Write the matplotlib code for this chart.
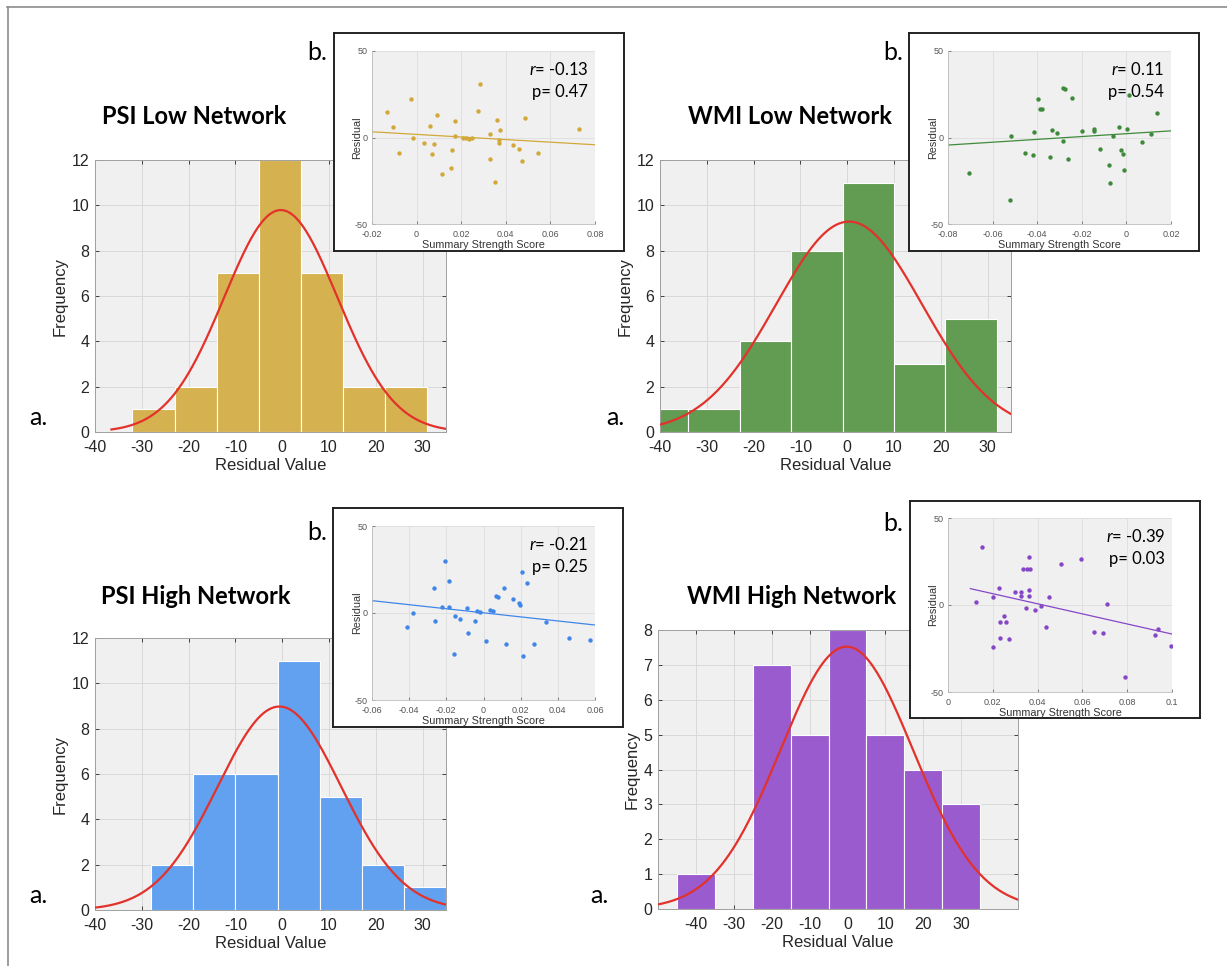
import numpy as np
import matplotlib as mpl
import matplotlib.pyplot as plt
from matplotlib.lines import Line2D

mpl.use("Agg")
plt.rcParams["font.family"] = ["Liberation Sans", "DejaVu Sans"]
plt.rcParams["axes.unicode_minus"] = False
plt.rcParams["mathtext.fontset"] = "custom"
plt.rcParams["mathtext.it"] = "Lato:italic"
plt.rcParams["mathtext.rm"] = "Lato"

W, H = 1227, 966
dpi = 100

# ---- histogram data (bin edges, counts, normal fit) ----
psi_low_edges = [-32, -23, -14, -5, 4, 13, 22, 31]
psi_low_counts = [1, 2, 7, 12, 7, 2, 2]
psi_low_fit = (-0.3, 12.1)   # mu, sigma

wmi_low_edges = [-45, -34, -23, -12, -1, 10, 21, 32]
wmi_low_counts = [1, 1, 4, 8, 11, 3, 5]
wmi_low_fit = (0.4, 15.6)

psi_high_edges = [-28, -19, -10, -1, 8, 17, 26, 35]
psi_high_counts = [2, 6, 6, 11, 5, 2, 1]
psi_high_fit = (-0.6, 13.2)

wmi_high_edges = [-45, -35, -25, -15, -5, 5, 15, 25, 35]
wmi_high_counts = [1, 0, 7, 5, 8, 5, 4, 3]
wmi_high_fit = (-0.2, 17.5)

# ---- scatter data (summary strength score vs residual) ----
psi_low_x = [-0.0133, -0.0105, -0.0079, -0.0026, -0.0015, 0.0033, 0.006, 0.0068, 0.0077,
             0.0091, 0.0116, 0.0154, 0.0157, 0.017, 0.0173, 0.021, 0.0223, 0.0236, 0.025,
             0.0277, 0.0286, 0.0327, 0.0327, 0.0353, 0.0362, 0.0369, 0.0369, 0.0373, 0.0432,
             0.0457, 0.0473, 0.0487, 0.0545, 0.0727]
psi_low_y = [14.8, 5.8, -8.8, 22.5, -0.2, -2.9, 6.5, -9.8, -3.8,
             12.9, -21.0, -17.7, -7.3, 1.0, 9.4, -0.4, -0.5, -1.0, 0.0,
             15.2, 30.8, -12.3, 1.9, -25.6, 10.4, -2.9, -1.5, 4.2, -4.2,
             -6.7, -13.5, 11.2, -9.2, 4.8]

wmi_low_x = [-0.0707, -0.052, -0.0518, -0.0454, -0.042, -0.0413, -0.0397, -0.0388, -0.038,
             -0.0341, -0.0334, -0.0313, -0.0286, -0.0275, -0.0285, -0.026, -0.0245, -0.0198,
             -0.0146, -0.0146, -0.0119, -0.0079, -0.0074, -0.0062, -0.0033, -0.0022, -0.0017,
             -0.0011, 0.0003, 0.001, 0.0069, 0.0109, 0.0136]
wmi_low_y = [-20.8, -36.2, 0.8, -8.8, -10.0, 3.1, 22.3, 16.5, 16.3,
             -11.2, 4.2, 2.7, 28.8, 27.9, -2.1, -12.5, 23.0, 3.8,
             5.0, 3.5, -6.7, -15.8, -26.5, 0.6, 6.0, -7.3, -9.8,
             -18.8, 4.8, 24.6, -2.5, 2.1, 14.2]

psi_high_x = [-0.0409, -0.0378, -0.0269, -0.0262, -0.0222, -0.0209, -0.0188, -0.0183, -0.0158,
              -0.0152, -0.0126, -0.0088, -0.0081, -0.0045, -0.0033, -0.002, 0.0016, 0.0033,
              0.005, 0.0067, 0.0078, 0.0112, 0.0122, 0.0158, 0.019, 0.0197, 0.0207, 0.0213,
              0.0232, 0.0271, 0.0339, 0.0462, 0.0573]
psi_high_y = [-8.2, 0.2, 14.4, -4.6, 3.4, 29.7, 18.6, 3.4, -23.4,
              -1.7, -3.6, 2.9, -11.5, -4.4, 1.0, 0.4, -15.9, 1.5,
              1.0, 10.0, 9.2, 14.4, -17.8, 7.9, 5.7, 4.4, 23.4, -24.7,
              17.0, -17.8, -5.0, -14.4, -15.5]

wmi_high_x = [0.0127, 0.0152, 0.0202, 0.0202, 0.0227, 0.023, 0.0232, 0.0248, 0.0257, 0.0271,
              0.03, 0.0325, 0.0327, 0.0336, 0.035, 0.0354, 0.0368, 0.0363, 0.0363, 0.0363,
              0.0389, 0.0414, 0.0438, 0.045, 0.0504, 0.0593, 0.0654, 0.0693, 0.0711, 0.0789,
              0.0925, 0.0936, 0.0996]
wmi_high_y = [1.5, 33.5, 4.8, -24.4, 10.0, -10.0, -19.2, -6.2, -10.0, -19.8,
              7.5, 7.5, 5.4, 20.8, -1.5, 20.8, 20.8, 27.3, 8.7, 5.2,
              -2.7, -0.4, -12.5, 4.8, 23.3, 26.3, -15.8, -16.2, 0.8, -41.3,
              -17.1, -14.0, -23.5]

# least squares lines as drawn (slope, intercept, x range)
psi_low_line = (-75.0, 1.8, -0.02, 0.08)
wmi_low_line = (82.0, 2.2, -0.08, 0.02)
psi_high_line = (-116.7, 0.1, -0.06, 0.06)
wmi_high_line = (-290.0, 12.3, 0.01, 0.1)

r_labels = [r"$\it{r}$= -0.13", r"$\it{r}$= $\it{0}$.11", r"$\it{r}$= -0.21", r"$\it{r}$= -0.39"]
p_labels = ["p= 0.47", "p= 0.54", "p= 0.25", "p= 0.03"]

titles = ["PSI Low Network", "WMI Low Network", "PSI High Network", "WMI High Network"]
bar_colors = ["#D6B150", "#629B52", "#62A0F0", "#9A5BCF"]
dot_colors = ["#D2A83A", "#3F8A3A", "#3F86E8", "#8646C8"]
fit_red = "#E2322B"


def box(x0, y0, x1, y1):
    return [x0 / W, 1 - y1 / H, (x1 - x0) / W, (y1 - y0) / H]


fig = plt.figure(figsize=(W / dpi, H / dpi), dpi=dpi)
# page frame: only top and left edges are visible
fig.lines.append(Line2D([7 / W, 1], [1 - 7 / H, 1 - 7 / H], transform=fig.transFigure,
                        color="#8c8c8c", linewidth=1.2))
fig.lines.append(Line2D([7.5 / W, 7.5 / W], [0, 1 - 7 / H], transform=fig.transFigure,
                        color="#8c8c8c", linewidth=1.2))

hist_boxes = [(95, 160, 446, 432), (660, 160, 1011, 432), (95, 638, 446, 910), (658, 630, 1018, 909)]
hist_data = [(psi_low_edges, psi_low_counts, psi_low_fit),
             (wmi_low_edges, wmi_low_counts, wmi_low_fit),
             (psi_high_edges, psi_high_counts, psi_high_fit),
             (wmi_high_edges, wmi_high_counts, wmi_high_fit)]
hist_xlims = [(-40, 35), (-40, 35), (-40, 35), (-50, 45)]
hist_ylims = [12, 12, 12, 8]
title_pos = [(194, 116), (790, 116), (196, 597), (792, 597)]
a_pos = [(29, 425), (606, 425), (29, 903), (590, 903)]

for i in range(4):
    ax = fig.add_axes(box(*hist_boxes[i]))
    edges, counts, (mu, sd) = hist_data[i]
    edges = np.array(edges, dtype=float)
    widths = np.diff(edges)
    ax.bar(edges[:-1], counts, width=widths, align="edge", color=bar_colors[i],
           edgecolor="white", linewidth=0.8, zorder=2)
    xs = np.linspace(hist_xlims[i][0], hist_xlims[i][1], 300)
    n = sum(counts)
    ys = n * widths[0] * np.exp(-0.5 * ((xs - mu) / sd) ** 2) / (sd * np.sqrt(2 * np.pi))
    if i == 0:
        m = xs >= -36.5
        xs, ys = xs[m], ys[m]
    ax.plot(xs, ys, color=fit_red, linewidth=1.6, zorder=3)
    ax.set_xlim(*hist_xlims[i])
    ax.set_ylim(0, hist_ylims[i])
    ax.set_xticks(np.arange(-40, 31, 10))
    if hist_ylims[i] == 12:
        ax.set_yticks(np.arange(0, 13, 2))
    else:
        ax.set_yticks(np.arange(0, 9, 1))
    ax.set_facecolor("#f0f0f0")
    ax.grid(True, color="#d9d9d9", linewidth=0.7, zorder=0)
    ax.set_axisbelow(True)
    ax.tick_params(direction="in", length=3, top=True, right=True, labelsize=11.5,
                   colors="#262626", width=0.6)
    ax.tick_params(axis="x", pad=6)
    ax.tick_params(axis="y", pad=4)
    for s in ax.spines.values():
        s.set_color("#a0a0a0")
        s.set_linewidth(0.7)
    ax.set_xlabel("Residual Value", fontsize=12, color="#262626", labelpad=2)
    ax.set_ylabel("Frequency", fontsize=12, color="#262626", labelpad=3)
    tx, ty = title_pos[i]
    fig.text(tx / W, 1 - ty / H, titles[i], ha="center", va="center", fontsize=17,
             fontweight="bold", family="Lato")
    axp, ayp = a_pos[i]
    fig.text(axp / W, 1 - ayp / H, "a.", ha="left", va="baseline", fontsize=18, family="Lato")

# ---- inset scatter plots ----
frame_boxes = [(334, 33, 624, 251), (909, 33, 1199, 251), (333, 508, 623, 727), (910, 501, 1200, 718)]
inner_boxes = [(372, 51, 595, 224), (948, 51, 1171, 224), (372, 526, 595, 700), (948, 518, 1172, 692)]
b_pos = [(307, 60), (883, 60), (307, 540), (883, 531)]
scatter_data = [(psi_low_x, psi_low_y, psi_low_line), (wmi_low_x, wmi_low_y, wmi_low_line),
                (psi_high_x, psi_high_y, psi_high_line), (wmi_high_x, wmi_high_y, wmi_high_line)]
scatter_xlims = [(-0.02, 0.08), (-0.08, 0.02), (-0.06, 0.06), (0, 0.1)]
scatter_xticks = [[-0.02, 0, 0.02, 0.04, 0.06, 0.08],
                  [-0.08, -0.06, -0.04, -0.02, 0, 0.02],
                  [-0.06, -0.04, -0.02, 0, 0.02, 0.04, 0.06],
                  [0, 0.02, 0.04, 0.06, 0.08, 0.1]]


def tick_fmt(v):
    if abs(v) < 1e-12:
        return "0"
    return ("%g" % v)


for i in range(4):
    fr = fig.add_axes(box(*frame_boxes[i]))
    fr.set_xticks([])
    fr.set_yticks([])
    fr.set_facecolor("white")
    for s in fr.spines.values():
        s.set_color("#222222")
        s.set_linewidth(1.4)

    ax = fig.add_axes(box(*inner_boxes[i]))
    sx, sy, (slope, icpt, lx0, lx1) = scatter_data[i]
    ax.scatter(sx, sy, s=10, color=dot_colors[i], zorder=3, linewidths=0)
    lx = np.array([lx0, lx1])
    ax.plot(lx, slope * lx + icpt, color=dot_colors[i], linewidth=0.9, zorder=2)
    ax.set_xlim(*scatter_xlims[i])
    ax.set_ylim(-50, 50)
    ax.set_xticks(scatter_xticks[i])
    ax.set_xticklabels([tick_fmt(v) for v in scatter_xticks[i]])
    ax.set_yticks([-50, 0, 50])
    ax.set_facecolor("#f0f0f0")
    ax.grid(True, color="#dedede", linewidth=0.6, zorder=0)
    ax.set_axisbelow(True)
    ax.tick_params(direction="in", length=2, labelsize=6.5, colors="#555555", width=0.5)
    ax.tick_params(axis="x", pad=4)
    ax.tick_params(axis="y", pad=3)
    for name, s in ax.spines.items():
        if name in ("top", "right"):
            s.set_visible(False)
        else:
            s.set_color("#bdbdbd")
            s.set_linewidth(0.6)
    ax.set_xlabel("Summary Strength Score", fontsize=7.8, color="#333333", labelpad=1)
    ax.set_ylabel("Residual", fontsize=7.8, color="#333333", labelpad=-5)
    ax.text(0.97, 0.94, r_labels[i], transform=ax.transAxes, ha="right", va="top",
            fontsize=12, family="Lato")
    ax.text(0.97, 0.81, p_labels[i], transform=ax.transAxes, ha="right", va="top",
            fontsize=12, family="Lato")
    bx, by = b_pos[i]
    fig.text(bx / W, 1 - by / H, "b.", ha="left", va="baseline", fontsize=18, family="Lato")

plt.savefig("out.png", dpi=dpi)
